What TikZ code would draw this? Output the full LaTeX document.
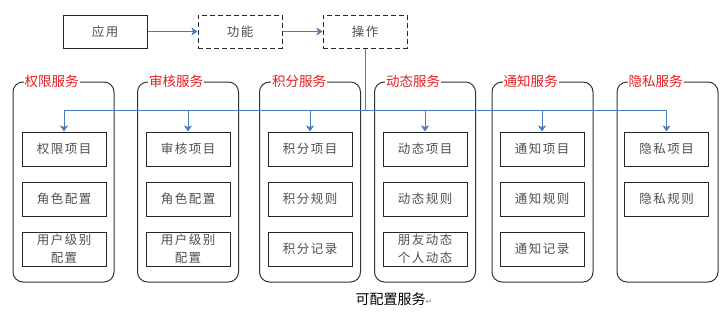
\documentclass[tikz,border=0pt]{standalone}
\usepackage{fontspec}
\setmainfont{Noto Sans CJK SC}
\newfontfamily\itemfont{Noto Sans CJK SC}[LetterSpace=12]
\newfontfamily\djv{DejaVu Sans}
\usetikzlibrary{arrows.meta}
\definecolor{linkblue}{RGB}{74,126,187}
\definecolor{titlered}{RGB}{230,30,35}
\definecolor{txtgray}{RGB}{80,80,80}
\begin{document}
\begin{tikzpicture}[x=1pt,y=-1pt,
  topbox/.style={draw=black!85, line width=1pt, minimum width=84pt, minimum height=33pt, inner sep=0pt, font=\itemfont\fontsize{12.5}{15}\selectfont, text=txtgray},
  dashbox/.style={topbox, dash pattern=on 5pt off 3pt},
  item/.style={draw=black!85, line width=1pt, minimum width=84pt, minimum height=34pt, inner sep=0pt, font=\itemfont\fontsize{12.5}{18}\selectfont, text=txtgray, align=center},
  container/.style={draw=black!80, line width=1pt, rounded corners=10pt, minimum width=101pt, minimum height=200pt, inner sep=0pt},
  svctitle/.style={fill=white, text=titlered, inner sep=1pt, anchor=west, font=\fontsize{13.5}{15}\selectfont},
  link/.style={draw=linkblue, line width=0.9pt},
  arr/.style={link, -{Stealth[length=6pt,width=8pt,inset=1.5pt]}},
  caption/.style={font=\fontsize{14}{16}\selectfont, text=black}
]
\useasboundingbox[fill=white] (0,0) rectangle (726,314);

% top row
\node[topbox] (app) at (105,31.5) {应用};
\node[dashbox] (func) at (240,31.5) {功能};
\node[dashbox] (op) at (365,31.5) {操作};
\draw[arr] (app) -- (func);
\draw[arr] (func) -- (op);

% containers
\node[container] (c1) at (63.5,182) {};
\node[container] (c2) at (188,182) {};
\node[container] (c3) at (310,182) {};
\node[container] (c4) at (425,182) {};
\node[container] (c5) at (542.5,182) {};
\node[container] (c6) at (667.5,182) {};

% titles
\node[svctitle] (t1) at ([xshift=11pt]c1.north west) {权限服务};
\node[svctitle] (t2) at ([xshift=11pt]c2.north west) {审核服务};
\node[svctitle] (t3) at ([xshift=12pt]c3.north west) {积分服务};
\node[svctitle] (t4) at ([xshift=11pt]c4.north west) {动态服务};
\node[svctitle] (t5) at ([xshift=11pt]c5.north west) {通知服务};
\node[svctitle] (t6) at ([xshift=11pt]c6.north west) {隐私服务};

% items
\node[item] (i11) at (64,149) {权限项目};
\node[item] (i12) at (64,199) {角色配置};
\node[item] (i13) at (64,249) {用户级别\\配置};

\node[item] (i21) at (188,149) {审核项目};
\node[item] (i22) at (188,199) {角色配置};
\node[item] (i23) at (188,249) {用户级别\\配置};

\node[item] (i31) at (310,149) {积分项目};
\node[item] (i32) at (310,199) {积分规则};
\node[item] (i33) at (310,249) {积分记录};

\node[item] (i41) at (425,149) {动态项目};
\node[item] (i42) at (425,199) {动态规则};
\node[item] (i43) at (425,249) {朋友动态\\个人动态};

\node[item] (i51) at (542,149) {通知项目};
\node[item] (i52) at (542,199) {通知规则};
\node[item] (i53) at (542,249) {通知记录};

\node[item] (i61) at (666.5,149) {隐私项目};
\node[item] (i62) at (666.5,199) {隐私规则};

% bus
\coordinate (busy) at (0,110);
\coordinate (busL) at (i11.north |- busy);
\coordinate (busR) at (i61.north |- busy);
\draw[link] (op.south) -- (op.south |- busy);
\draw[link] (busL) -- (busR);
\foreach \n in {i11,i21,i31,i41,i51,i61}{
  \draw[arr] (\n.north |- busy) -- (\n.north);
}

% caption
\node[caption] (cap) at (394,299) {可配置服务{\djv\fontsize{8}{10}\selectfont\color{black!50}↵}};
\end{tikzpicture}
\end{document}
